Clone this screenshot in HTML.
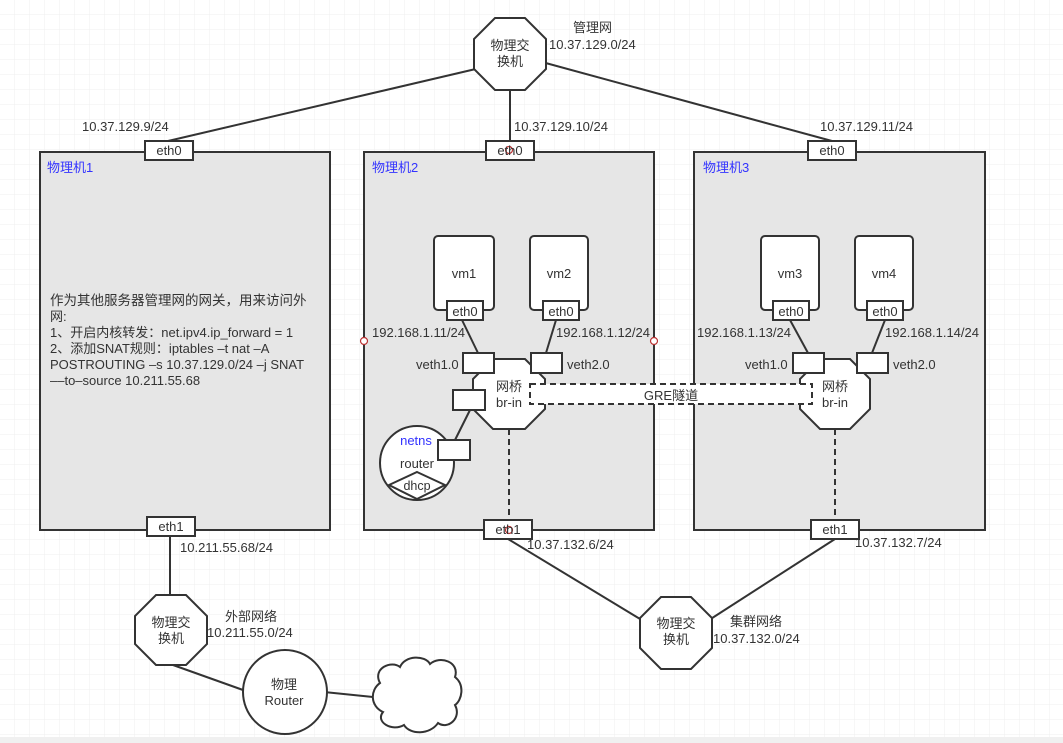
<!DOCTYPE html>
<html><head><meta charset="utf-8"><style>
html,body{margin:0;padding:0;background:#fff;}
svg{display:block;font-family:"Liberation Sans","Noto Sans CJK SC",sans-serif;}
text{font-size:13px;fill:#333;}
</style></head><body>
<svg width="1063" height="743" viewBox="0 0 1063 743" xmlns="http://www.w3.org/2000/svg">
<defs>
<pattern id="g" width="15" height="15" patternUnits="userSpaceOnUse"><path d="M15 0V15H0" fill="none" stroke="#efefef" stroke-width="1"/></pattern>
</defs>
<rect width="1063" height="743" fill="url(#g)"/>
<rect x="0" y="737" width="1063" height="6" fill="#f0f0f0"/>
<g stroke="#333" stroke-width="2" fill="none">
<line x1="480" y1="68" x2="168" y2="141"/>
<line x1="542" y1="62" x2="832" y2="141"/>
<line x1="510" y1="90" x2="510" y2="141"/>
<line x1="170" y1="536" x2="170" y2="596"/>
<line x1="173" y1="665" x2="243" y2="690"/>
<line x1="324" y1="692" x2="373" y2="697"/>
<line x1="508" y1="539" x2="645" y2="622"/>
<line x1="835" y1="539" x2="706" y2="622"/>
</g>
<g fill="#e6e6e6" stroke="#333" stroke-width="2">
<rect x="40" y="152" width="290" height="378"/>
<rect x="364" y="152" width="290" height="378"/>
<rect x="694" y="152" width="291" height="378"/>
</g>
<g fill="#fff" stroke="#333" stroke-width="2">
<polygon points="495,18 525,18 546,39 546,69 525,90 495,90 474,69 474,39"/>
<polygon points="156,595 186,595 207,616 207,644 186,665 156,665 135,644 135,616"/>
<polygon points="661,597 691,597 712,618 712,648 691,669 661,669 640,648 640,618"/>
<polygon points="493,359 525,359 545,379 545,409 525,429 493,429 473,409 473,379"/>
<polygon points="820,359 850,359 870,379 870,409 850,429 820,429 800,409 800,379"/>
<circle cx="285" cy="692" r="42"/>
<circle cx="417" cy="463" r="37"/>
<polygon points="417,472 445,485 417,499 389,485"/>
<path d="M380 683 C372 668 392 660 400 667 C405 655 425 655 430 664 C440 655 460 662 455 677 C465 685 462 700 455 705 C462 718 448 730 438 723 C430 735 410 735 404 725 C392 732 375 722 383 712 C370 706 370 690 380 683 Z"/>
</g>
<g fill="#fff" stroke="#333" stroke-width="2">
<rect x="434" y="236" width="60" height="74" rx="4"/>
<rect x="530" y="236" width="58" height="74" rx="4"/>
<rect x="761" y="236" width="58" height="74" rx="4"/>
<rect x="855" y="236" width="58" height="74" rx="4"/>
</g>
<g stroke="#333" stroke-width="2" fill="none">
<line x1="462" y1="320" x2="478" y2="353"/>
<line x1="556" y1="320" x2="546" y2="353"/>
<line x1="790" y1="320" x2="808" y2="353"/>
<line x1="885" y1="320" x2="872" y2="353"/>
<line x1="470" y1="410" x2="455" y2="440"/>
</g>
<g stroke="#333" stroke-width="2" fill="none" stroke-dasharray="6,4">
<line x1="509" y1="429" x2="509" y2="520"/>
<line x1="835" y1="429" x2="835" y2="520"/>
<rect x="530" y="384" width="282" height="20" fill="#fff"/>
</g>
<g fill="#fff" stroke="#333" stroke-width="2">
<rect x="145" y="141" width="48" height="19"/>
<rect x="486" y="141" width="48" height="19"/>
<rect x="808" y="141" width="48" height="19"/>
<rect x="147" y="517" width="48" height="19"/>
<rect x="484" y="520" width="48" height="19"/>
<rect x="811" y="520" width="48" height="19"/>
<rect x="447" y="301" width="36" height="19"/>
<rect x="543" y="301" width="36" height="19"/>
<rect x="773" y="301" width="36" height="19"/>
<rect x="867" y="301" width="36" height="19"/>
<rect x="463" y="353" width="31" height="20"/>
<rect x="531" y="353" width="31" height="20"/>
<rect x="793" y="353" width="31" height="20"/>
<rect x="857" y="353" width="31" height="20"/>
<rect x="453" y="390" width="32" height="20"/>
<rect x="438" y="440" width="32" height="20"/>
</g>
<g fill="#fff" stroke="#b33" stroke-width="1.2">
<circle cx="364" cy="341" r="3.5"/><circle cx="654" cy="341" r="3.5"/>
<circle cx="509" cy="150" r="3.5"/><circle cx="509" cy="530" r="3.5"/>
</g>
<g text-anchor="middle">
<text x="510" y="50">物理交</text><text x="510" y="66">换机</text>
<text x="171" y="627">物理交</text><text x="171" y="643">换机</text>
<text x="676" y="628">物理交</text><text x="676" y="644">换机</text>
<text x="284" y="689">物理</text><text x="284" y="705">Router</text>
<text x="509" y="391">网桥</text><text x="509" y="407">br-in</text>
<text x="835" y="391">网桥</text><text x="835" y="407">br-in</text>
<text x="417" y="468">router</text>
<text x="417" y="490" style="font-size:12.5px">dhcp</text>
<text x="416" y="445" style="fill:#33f">netns</text>
<text x="671" y="400">GRE隧道</text>
<text x="169" y="155">eth0</text><text x="510" y="155">eth0</text><text x="832" y="155">eth0</text>
<text x="171" y="531">eth1</text><text x="508" y="534">eth1</text><text x="835" y="534">eth1</text>
<text x="465" y="316">eth0</text><text x="561" y="316">eth0</text>
<text x="791" y="316">eth0</text><text x="885" y="316">eth0</text>
<text x="464" y="278">vm1</text><text x="559" y="278">vm2</text>
<text x="790" y="278">vm3</text><text x="884" y="278">vm4</text>
</g>
<text x="573" y="32">管理网</text>
<text x="549" y="49">10.37.129.0/24</text>
<text x="82" y="131">10.37.129.9/24</text>
<text x="514" y="131">10.37.129.10/24</text>
<text x="820" y="131">10.37.129.11/24</text>
<text x="47" y="172" style="fill:#33f">物理机1</text>
<text x="372" y="172" style="fill:#33f">物理机2</text>
<text x="703" y="172" style="fill:#33f">物理机3</text>
<text x="50" y="305" style="font-size:13.5px">作为其他服务器管理网的网关，用来访问外</text>
<text x="50" y="321">网:</text>
<text x="50" y="337">1、开启内核转发：net.ipv4.ip_forward = 1</text>
<text x="50" y="353">2、添加SNAT规则：iptables –t nat –A</text>
<text x="50" y="369">POSTROUTING –s 10.37.129.0/24 –j SNAT</text>
<text x="50" y="385">––to–source 10.211.55.68</text>
<text x="180" y="552">10.211.55.68/24</text>
<text x="225" y="621">外部网络</text>
<text x="207" y="637">10.211.55.0/24</text>
<text x="372" y="337">192.168.1.11/24</text>
<text x="556" y="337">192.168.1.12/24</text>
<text x="697" y="337">192.168.1.13/24</text>
<text x="885" y="337">192.168.1.14/24</text>
<text x="416" y="369">veth1.0</text>
<text x="567" y="369">veth2.0</text>
<text x="745" y="369">veth1.0</text>
<text x="893" y="369">veth2.0</text>
<text x="527" y="549">10.37.132.6/24</text>
<text x="855" y="547">10.37.132.7/24</text>
<text x="730" y="626">集群网络</text>
<text x="713" y="643">10.37.132.0/24</text>
</svg>
</body></html>
